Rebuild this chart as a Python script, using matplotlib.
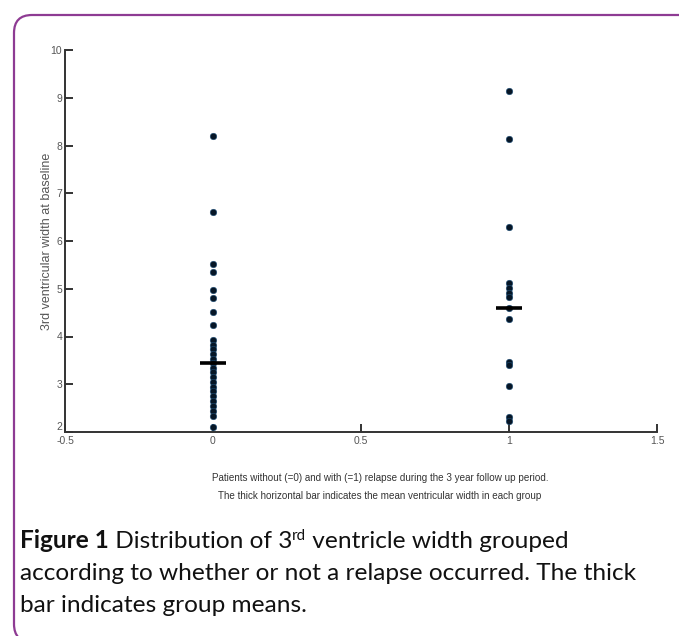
import matplotlib
matplotlib.use("Agg")
import matplotlib.pyplot as plt
from matplotlib.patches import FancyBboxPatch
from matplotlib.transforms import IdentityTransform

# values
group_ids = [0, 1]
widths_no_relapse = [8.20, 6.60, 5.52, 5.35, 4.97, 4.80, 4.52, 4.25, 3.92, 3.82,
                     3.73, 3.63, 3.53, 3.45, 3.35, 3.25, 3.15, 3.05, 2.95, 2.85,
                     2.75, 2.65, 2.55, 2.45, 2.33, 2.10]
widths_relapse = [9.15, 8.14, 6.30, 5.13, 5.02, 4.92, 4.82, 4.60, 4.36, 3.47,
                  3.41, 2.97, 2.31, 2.22]
group_means = [3.45, 4.60]
x_ticks = [-0.5, 0, 0.5, 1, 1.5]
y_ticks = [2, 3, 4, 5, 6, 7, 8, 9, 10]

W, H = 679, 636
fig = plt.figure(figsize=(W / 100, H / 100), dpi=100)
ax = fig.add_axes([65 / W, 1 - 432 / H, (657 - 65) / W, (432 - 50) / H])

tick_font = ['Liberation Sans Narrow', 'Liberation Sans', 'DejaVu Sans']
grey = '#555555'
dot_col = '#061626'

for gid, vals in zip(group_ids, [widths_no_relapse, widths_relapse]):
    ax.scatter([gid] * len(vals), vals, s=22, color=dot_col, edgecolors='#1d4f7a',
               linewidths=0.4, zorder=3, clip_on=False)

# thick bar = group mean
for gid, m in zip(group_ids, group_means):
    ax.plot([gid - 0.044, gid + 0.044], [m, m], color='black', lw=2.6,
            solid_capstyle='butt', zorder=4)

ax.set_xlim(-0.5, 1.5)
ax.set_ylim(2, 10)
ax.set_xticks(x_ticks)
ax.set_xticklabels(['-0.5', '0', '0.5', '1', '1.5'])
ax.set_yticks(y_ticks)
for s in ['top', 'right']:
    ax.spines[s].set_visible(False)
for s in ['left', 'bottom']:
    ax.spines[s].set_color('#333333')
    ax.spines[s].set_linewidth(1.4)
ax.tick_params(direction='in', length=6, width=1.4, color='#333333',
               labelsize=7.5, labelcolor=grey)
ax.tick_params(axis='x', pad=3)
ax.tick_params(axis='y', pad=2)
for lab in ax.get_xticklabels() + ax.get_yticklabels():
    lab.set_family(tick_font)
# the "2" sits a bit above the -0.5 label in the reference
ax.get_yticklabels()[0].set_verticalalignment('bottom')

ax.set_ylabel('3rd ventricular width at baseline', fontsize=9, color=grey,
              family=tick_font)
ax.yaxis.set_label_coords(-0.02, 0.5)

ax.text(0.532, -0.12, 'Patients without (=0) and with (=1) relapse during the 3 year follow up period.',
        transform=ax.transAxes, ha='center', va='center', fontsize=7.1, color='#333333',
        family=tick_font)
ax.text(0.532, -0.167, 'The thick horizontal bar indicates the mean ventricular width in each group',
        transform=ax.transAxes, ha='center', va='center', fontsize=7.1, color='#333333',
        family=tick_font)

# caption
cap_font = ['Lato', 'DejaVu Sans']
cap_size = 17.6
cap_col = '#111111'
t1 = fig.text(20 / W, 1 - 548 / H, 'Figure 1', fontsize=cap_size, weight='bold',
              color=cap_col, family=cap_font, va='baseline')
t2 = fig.text(0, 0, ' Distribution of 3', fontsize=cap_size, color=cap_col,
              family=cap_font, va='baseline')
fig.canvas.draw()
r = fig.canvas.get_renderer()
bb = t1.get_window_extent(r)
t2.set_position((bb.x1 / W, 1 - 548 / H))
fig.canvas.draw()
bb = t2.get_window_extent(r)
t3 = fig.text(bb.x1 / W, 1 - 540 / H, 'rd', fontsize=cap_size * 0.62, color=cap_col,
              family=cap_font, va='baseline')
fig.canvas.draw()
bb = t3.get_window_extent(r)
fig.text(bb.x1 / W, 1 - 548 / H, ' ventricle width grouped', fontsize=cap_size,
         color=cap_col, family=cap_font, va='baseline')
fig.text(20 / W, 1 - 580 / H, 'according to whether or not a relapse occurred. The thick',
         fontsize=cap_size, color=cap_col, family=cap_font, va='baseline')
fig.text(20 / W, 1 - 612 / H, 'bar indicates group means.',
         fontsize=cap_size, color=cap_col, family=cap_font, va='baseline')

# purple rounded frame, running off the right and bottom edges
frame = FancyBboxPatch((14, -6), 730, H - 15 + 6,
                       boxstyle='round,pad=0,rounding_size=18',
                       transform=IdentityTransform(), fill=False,
                       edgecolor='#8e3b93', linewidth=1.6)
fig.add_artist(frame)

fig.savefig('out.png', dpi=100)
